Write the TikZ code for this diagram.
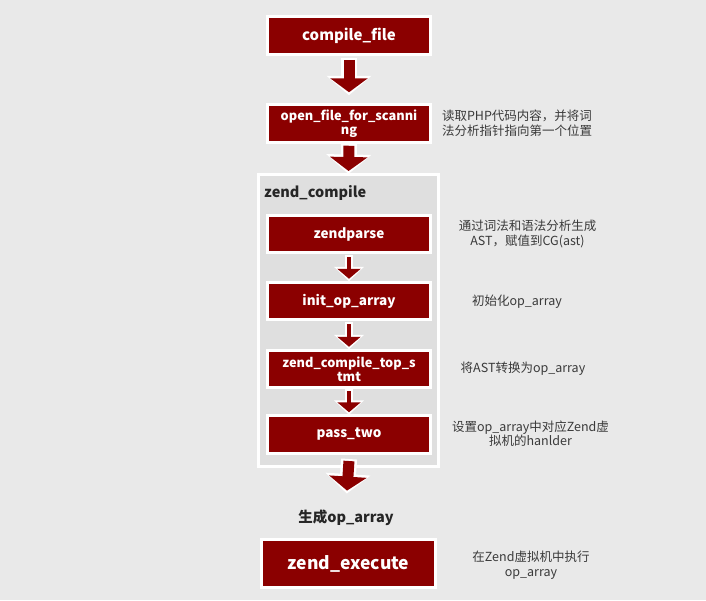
\documentclass[tikz,border=0pt]{standalone}
\usepackage{fontspec}
\setmainfont{Noto Sans CJK SC}
\usetikzlibrary{arrows.meta}

\definecolor{boxred}{HTML}{8B0000}
\definecolor{bggray}{HTML}{E9E9E9}
\definecolor{groupgray}{HTML}{DFDFDF}
\definecolor{notegray}{HTML}{3A3A3A}

\tikzset{
  stepbox/.style={draw=white, line width=3pt, fill=boxred, text=white,
    font=\bfseries\fontsize{13.5}{14}\selectfont, minimum width=163pt,
    minimum height=37.5pt, inner sep=1pt, align=center},
  groupbox/.style={draw=white, line width=3pt, fill=groupgray,
    minimum width=180pt, minimum height=292pt},
  grouptitle/.style={anchor=west, inner sep=0pt, text=black!85,
    font=\bfseries\fontsize{14.5}{16}\selectfont},
  note/.style={text=notegray, font=\fontsize{12.5}{14.5}\selectfont,
    align=center, inner sep=0pt},
  bigarrow/.style 2 args={draw=boxred, line width=11pt,
    -{Triangle[width=37pt,length=14pt]}, shorten <=#1, shorten >=#2,
    preaction={draw=white, line width=16pt,
      -{Triangle[width=44pt,length=19.5pt]}, shorten <=#1-2pt, shorten >=#2-3pt}},
  smallarrow/.style 2 args={draw=boxred, line width=4pt,
    -{Triangle[width=23pt,length=10pt]}, shorten <=#1, shorten >=#2,
    preaction={draw=white, line width=8pt,
      -{Triangle[width=29pt,length=14.5pt]}, shorten <=#1-2pt, shorten >=#2-2.6pt}}
}

\begin{document}
\begin{tikzpicture}[x=1pt, y=-1pt]
  \fill[bggray] (0,0) rectangle (706,600);
  \useasboundingbox (0,0) rectangle (706,600);

  % zend_compile group
  \node[groupbox] (zc) at (348.5,320.5) {};
  \node[grouptitle] (zctitle) at (264,193) {zend\_compile};

  % main steps
  \node[stepbox, font=\bfseries\fontsize{15}{16}\selectfont] (cf) at (349,35.5) {compile\_file};
  \node[stepbox, font=\bfseries\fontsize{12.8}{14}\selectfont] (of) at (349,123.5) {open\_file\_for\_scanni\\ng};
  \node[stepbox] (zp) at (349,234) {zendparse};
  \node[stepbox] (ia) at (349,301) {init\_op\_array};
  \node[stepbox, font=\bfseries\fontsize{12.8}{14}\selectfont] (zs) at (349,369) {zend\_compile\_top\_s\\tmt};
  \node[stepbox] (pt) at (349,434.5) {pass\_two};
  \node[font=\bfseries\fontsize{14.5}{16}\selectfont, text=black!85] (gen) at (346,518) {生成op\_array};
  \node[stepbox, minimum width=174pt, minimum height=48pt,
    font=\bfseries\fontsize{17.5}{20}\selectfont] (ze) at (348.5,563.5) {zend\_execute};

  % arrows
  \draw[bigarrow={4pt}{11pt}] (cf.south) -- (of.north);
  \draw[bigarrow={2pt}{2pt}] (of.south) -- (zc.north);
  \draw[smallarrow={3pt}{2pt}] (zp.south) -- (ia.north);
  \draw[smallarrow={3pt}{2pt}] (ia.south) -- (zs.north);
  \draw[smallarrow={2pt}{2pt}] (zs.south) -- (pt.north);
  \draw[bigarrow={-7pt}{16pt}] (zc.south) -- (gen.north);

  % notes
  \node[note] (n1) at (517,123) {读取PHP代码内容，并将词\\法分析指针指向第一个位置};
  \node[note] (n2) at (527.5,234) {通过词法和语法分析生成\\AST，赋值到CG(ast)};
  \node[note] (n3) at (517,302) {初始化op\_array};
  \node[note] (n4) at (523,369) {将AST转换为op\_array};
  \node[note] (n5) at (530.5,433.5) {设置op\_array中对应Zend虚\\拟机的hanlder};
  \node[note] (n6) at (531,565) {在Zend虚拟机中执行\\op\_array};
\end{tikzpicture}
\end{document}
